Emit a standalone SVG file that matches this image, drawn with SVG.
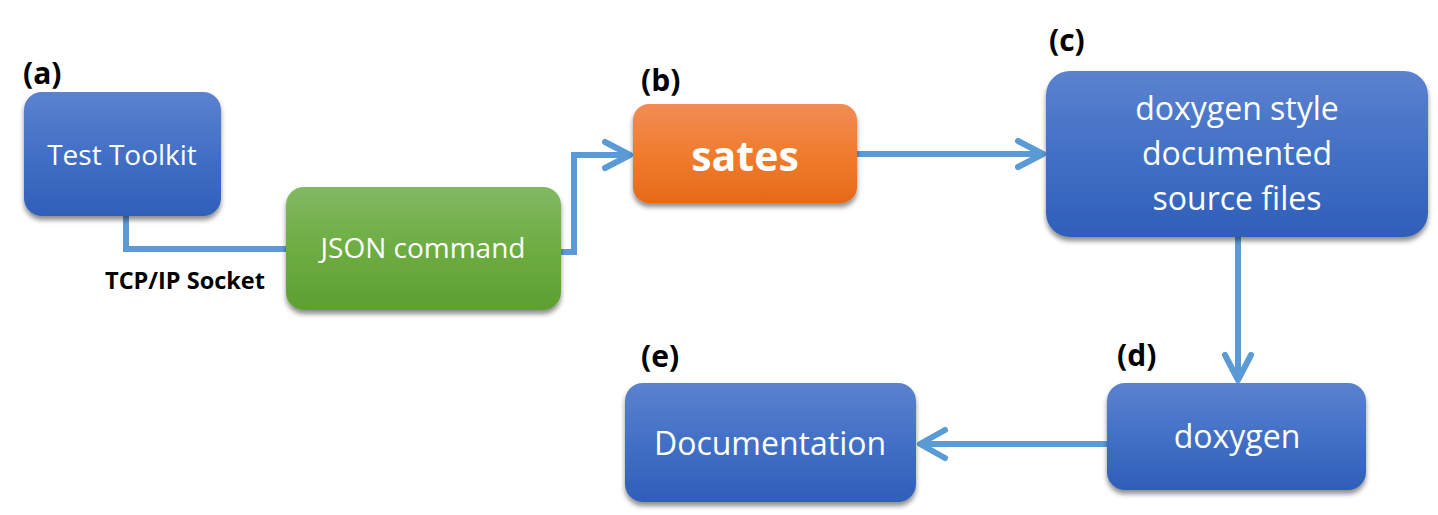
<svg xmlns="http://www.w3.org/2000/svg" width="1438" height="515" viewBox="0 0 1438 515">
<style>
.lbl{font-family:"Open Sans","Noto Sans",sans-serif;font-weight:bold;fill:#000}
.t{font-family:"Open Sans","Noto Sans",sans-serif;fill:#fff;text-anchor:middle}
.conn{fill:none;stroke:#5B9BD5;stroke-width:6}
.head{fill:none;stroke:#5B9BD5;stroke-width:6;stroke-linecap:round;stroke-linejoin:round}
</style>
<defs>
<linearGradient id="gBlue" x1="0" y1="0" x2="0" y2="1"><stop offset="0" stop-color="#5B82CE"/><stop offset="0.5" stop-color="#4270C6"/><stop offset="1" stop-color="#2F5FB8"/></linearGradient>
<linearGradient id="gGreen" x1="0" y1="0" x2="0" y2="1"><stop offset="0" stop-color="#82B862"/><stop offset="0.5" stop-color="#6DAD42"/><stop offset="1" stop-color="#5E9F32"/></linearGradient>
<linearGradient id="gOrange" x1="0" y1="0" x2="0" y2="1"><stop offset="0" stop-color="#F08D55"/><stop offset="0.5" stop-color="#F07C2E"/><stop offset="1" stop-color="#E56A18"/></linearGradient>
<filter id="sh" x="-10%" y="-10%" width="120%" height="130%"><feGaussianBlur in="SourceAlpha" stdDeviation="2.5"/><feOffset dx="0" dy="4"/><feComponentTransfer><feFuncA type="linear" slope="0.45"/></feComponentTransfer><feMerge><feMergeNode/><feMergeNode in="SourceGraphic"/></feMerge></filter>
</defs>
<g id="connectors">
<polyline class="conn" points="126,216 126,249 287,249"/>
<polyline class="conn" points="561,252 574,252 574,155 630,155"/>
<polyline class="head" points="605,142 630,155 605,168"/>
<line class="conn" x1="857" y1="154" x2="1043" y2="154"/>
<polyline class="head" points="1018,141 1043,154 1018,167"/>
<line class="conn" x1="1238" y1="237" x2="1238" y2="380"/>
<polyline class="head" points="1225,355 1238,380 1251,355"/>
<line class="conn" x1="1107" y1="444" x2="920" y2="444"/>
<polyline class="head" points="945,430 920,444 945,458"/>
</g>
<g id="label-tcp"><text class="lbl" x="185" y="289" font-size="23.5" text-anchor="middle">TCP/IP Socket</text></g>
<g id="node-a">
<text class="lbl" x="23" y="84" font-size="30">(a)</text>
<rect x="24" y="92" width="197" height="124" rx="18" fill="url(#gBlue)" filter="url(#sh)"/>
<text class="t" x="122" y="165" font-size="28">Test Toolkit</text>
</g>
<g id="node-json">
<rect x="286" y="187" width="275" height="123" rx="18" fill="url(#gGreen)" filter="url(#sh)"/>
<text class="t" x="423" y="258" font-size="28">JSON command</text>
</g>
<g id="node-b">
<text class="lbl" x="641" y="91" font-size="30">(b)</text>
<rect x="633" y="104" width="224" height="99" rx="16" fill="url(#gOrange)" filter="url(#sh)"/>
<text class="t" x="745" y="171" font-size="41" font-weight="bold">sates</text>
</g>
<g id="node-c">
<text class="lbl" x="1049" y="51" font-size="30">(c)</text>
<rect x="1046" y="71" width="382" height="166" rx="24" fill="url(#gBlue)" filter="url(#sh)"/>
<text class="t" x="1237" y="120" font-size="32">doxygen style</text>
<text class="t" x="1237" y="165" font-size="32">documented</text>
<text class="t" x="1237" y="210" font-size="32">source files</text>
</g>
<g id="node-d">
<text class="lbl" x="1117" y="366" font-size="30">(d)</text>
<rect x="1107" y="383" width="259" height="107" rx="18" fill="url(#gBlue)" filter="url(#sh)"/>
<text class="t" x="1237" y="448" font-size="32">doxygen</text>
</g>
<g id="node-e">
<text class="lbl" x="641" y="367" font-size="30">(e)</text>
<rect x="625" y="383" width="291" height="119" rx="18" fill="url(#gBlue)" filter="url(#sh)"/>
<text class="t" x="770" y="455" font-size="32">Documentation</text>
</g>
</svg>
